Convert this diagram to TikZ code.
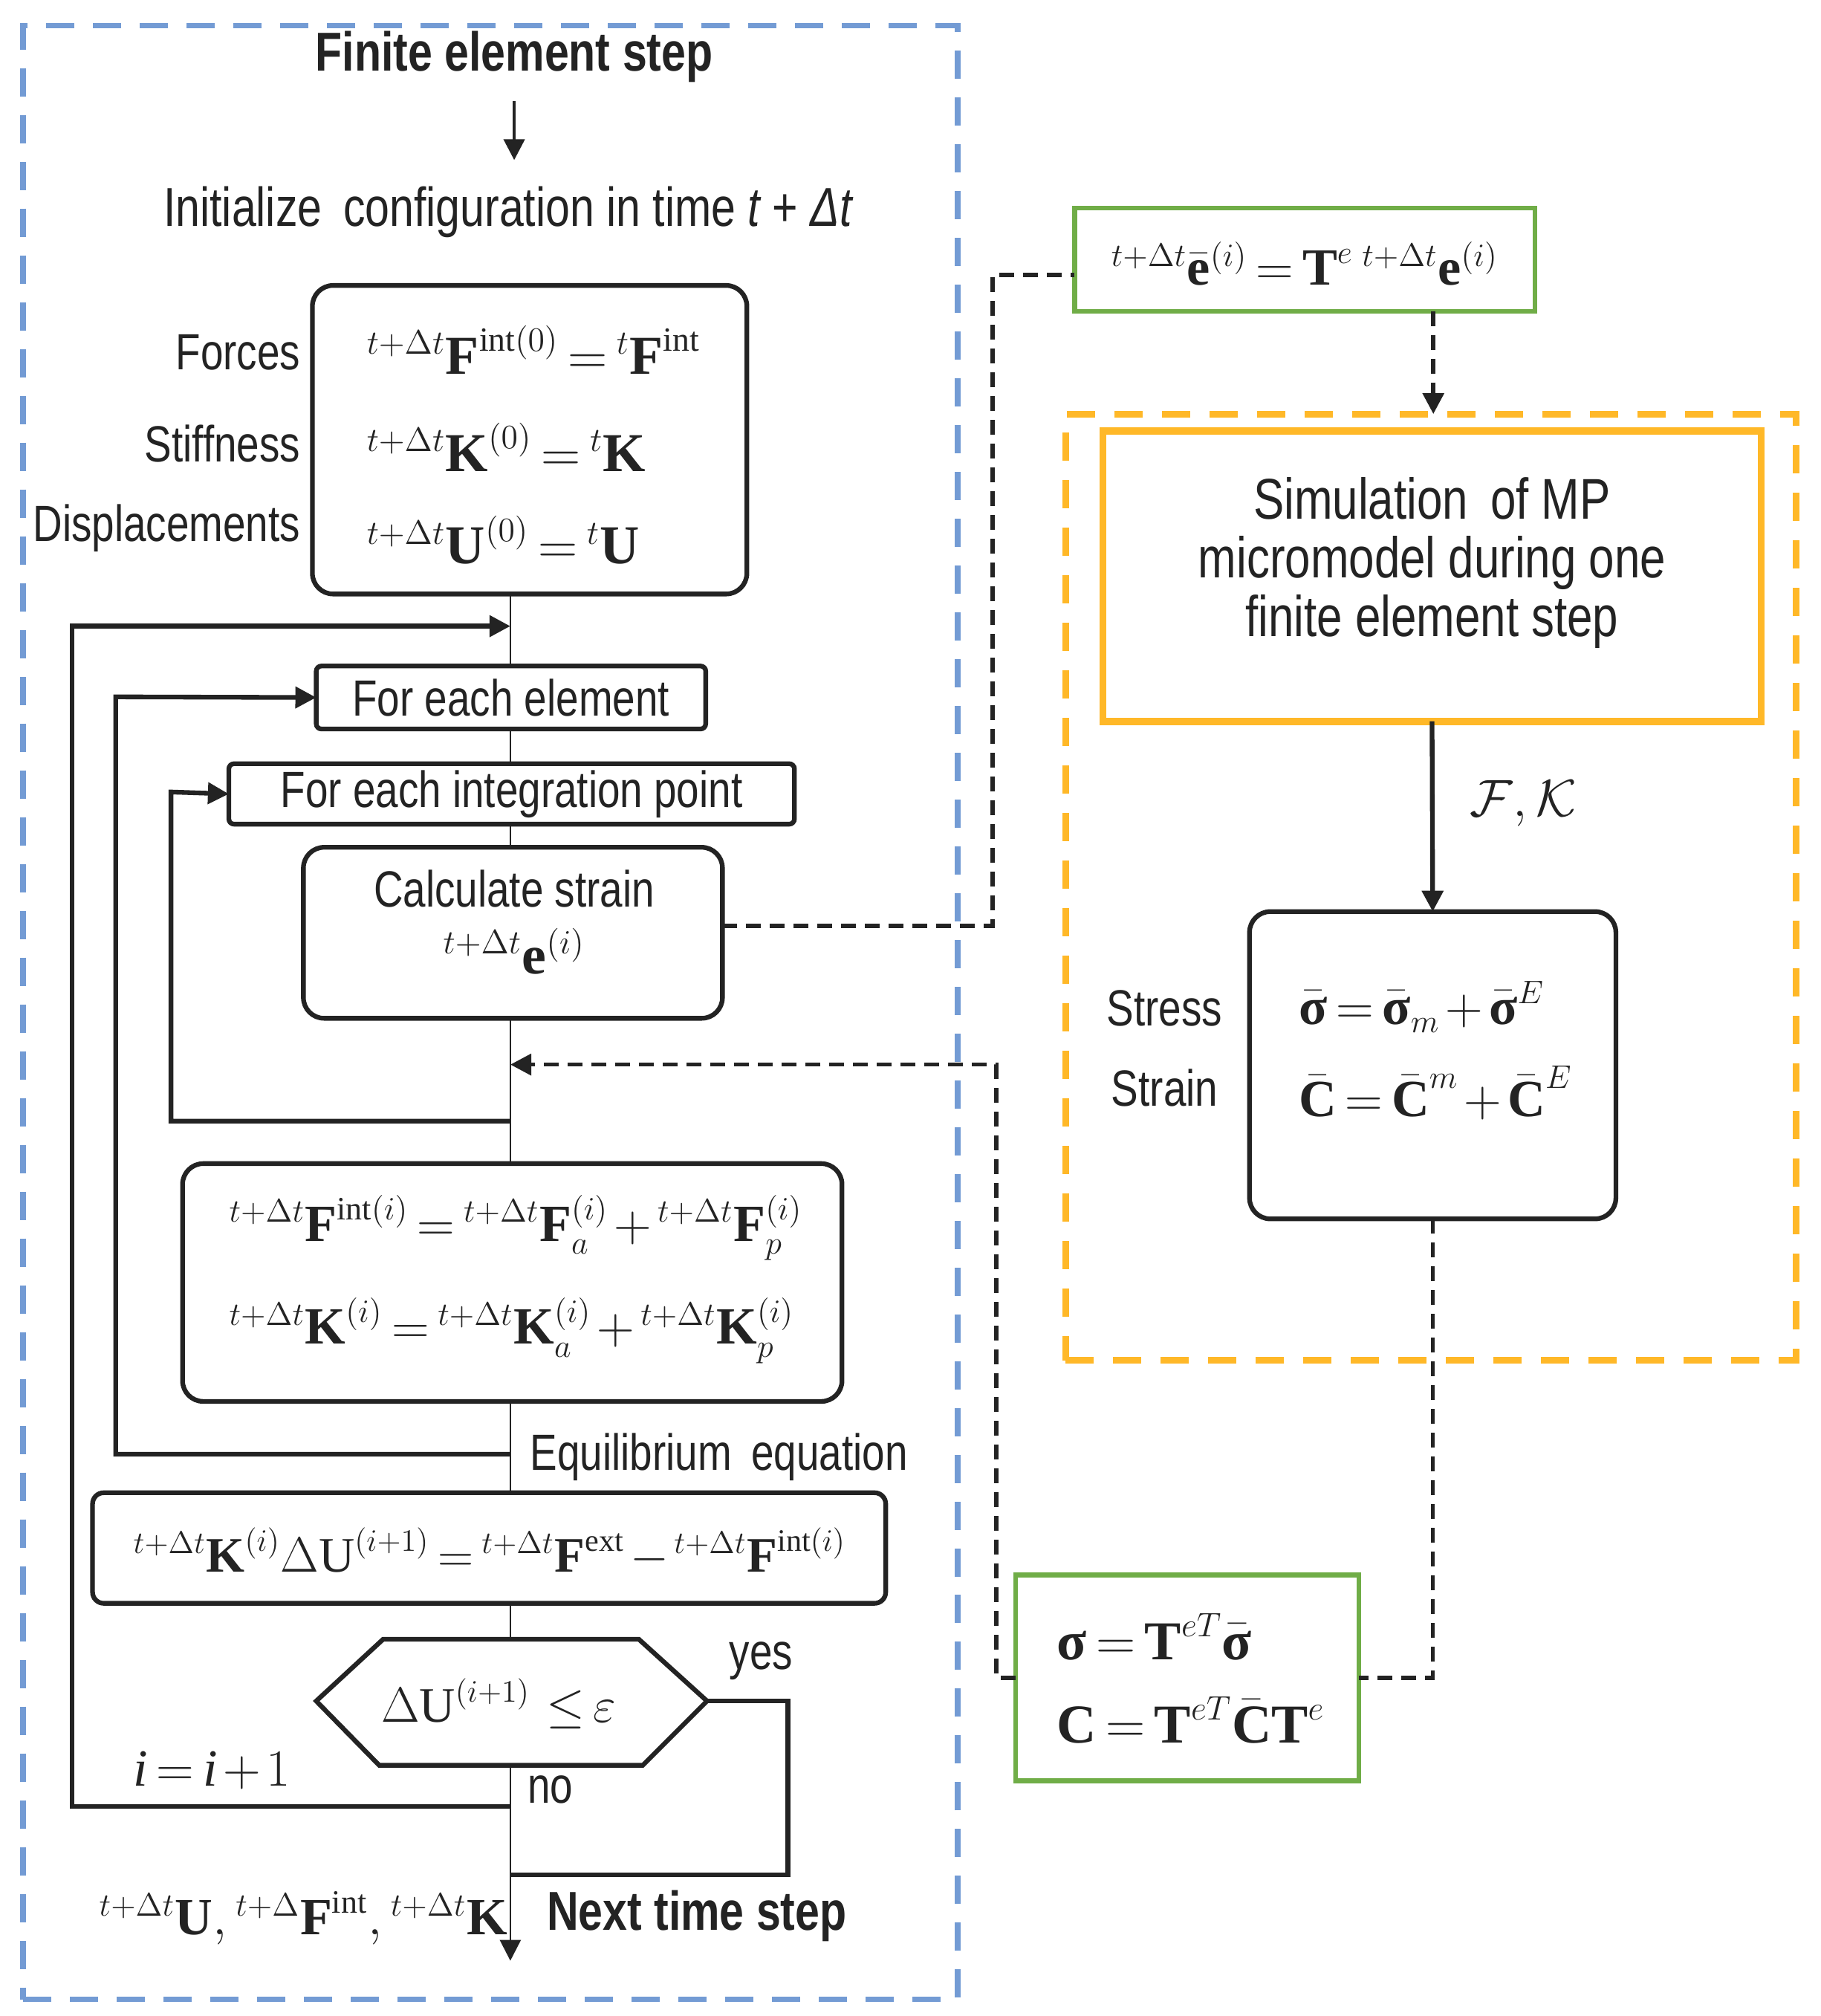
\RequirePackage{fix-cm}
\documentclass[tikz,border=0pt]{standalone}
\usepackage{amsmath,amssymb,bm}
\usepackage[no-math]{fontspec}
\setmainfont{Liberation Sans}[FakeStretch=0.8]
\newfontfamily\tms{Liberation Serif}
\newcommand\bfl[1]{\text{\tms\bfseries #1}}
\newcommand\rml[1]{\text{\tms #1}}
\newcommand\itl[1]{\text{\tms\itshape #1}}
\DeclareMathSizes{19}{19}{12}{9}
\DeclareMathSizes{20}{20}{12.5}{9}
\DeclareMathSizes{21}{21}{13}{9.5}
\usetikzlibrary{arrows.meta,fit,calc}
\definecolor{fblue}{RGB}{115,155,212}
\definecolor{forange}{RGB}{255,184,40}
\definecolor{fgreen}{RGB}{112,173,71}
\definecolor{fdark}{RGB}{35,35,35}
\begin{document}
\thickmuskip=3mu plus 2mu
\medmuskip=2mu plus 1mu
\begin{tikzpicture}[x=0.017302cm, y=-0.017302cm,
  box/.style={draw=fdark, line width=1.8pt, inner sep=0pt, outer sep=0pt, rounded corners=2pt},
  rbox/.style={box, rounded corners=0.28cm},
  gbox/.style={draw=fgreen, line width=1.8pt, inner sep=0pt, outer sep=0pt},
  obox/.style={draw=forange, line width=2.8pt, inner sep=0pt, outer sep=0pt},
  sans/.style={font=\fontsize{19.5}{23}\selectfont, text=fdark, inner sep=0pt},
  boldsans/.style={font=\bfseries\fontsize{21}{25}\selectfont, text=fdark, inner sep=0pt},
  eq/.style={font=\fontsize{20}{24}\selectfont, inner sep=0pt, text=fdark},
  bigeq/.style={font=\fontsize{21}{25}\selectfont, inner sep=0pt, text=fdark},
  smalleq/.style={font=\fontsize{19}{23}\selectfont, inner sep=0pt, text=fdark},
  loopline/.style={draw=fdark, line width=1.8pt},
  mainline/.style={draw=fdark, line width=0.8pt},
  arr/.style={-{Triangle[length=8pt,width=8pt]}},
  dline/.style={draw=fdark, line width=1.6pt, dash pattern=on 0.2cm off 0.12cm},
  bluedash/.style={draw=fblue, line width=2.2pt, dash pattern=on 0.38cm off 0.25cm, inner sep=0pt, outer sep=0pt},
  orangedash/.style={draw=forange, line width=2.6pt, dash pattern=on 0.38cm off 0.26cm, inner sep=0pt, outer sep=0pt}
]
\useasboundingbox (0,0) rectangle (1416,1568);

% frames
\node[bluedash, fit={(18,20)(745,1555)}] (fe) {};
\node[orangedash, fit={(829,322)(1397,1058)}] (odash) {};

% title and init
\node[boldsans] (title) at (400,44) {Finite element step};
\node[font=\fontsize{21}{25}\selectfont, text=fdark, inner sep=0pt] (init) at (395,165) {Initialize\, configuration in time {\itshape t} + {\itshape Δt}};
\draw[draw=fdark, line width=1.2pt, arr, shorten <=0.25cm, shorten >=0.35cm] (title.south) -- (title.south |- init.north);

% box 1
\node[rbox, fit={(243,222)(581,462)}] (b1) {};
\node[sans, anchor=east] (lf) at (234,274) {Forces};
\node[sans, anchor=east] (ls) at (234,345) {Stiffness};
\node[sans, anchor=east] (ld) at (234,411) {Displacements};
\node[bigeq, anchor=west] (e1) at (285,272) {${}^{t+\Delta t}\bfl{F}^{\rml{int}(0)} = {}^{t}\bfl{F}^{\rml{int}}$};
\node[bigeq, anchor=west] (e2) at (285,348) {${}^{t+\Delta t}\bfl{K}^{(0)} = {}^{t}\bfl{K}$};
\node[bigeq, anchor=west] (e3) at (285,420) {${}^{t+\Delta t}\bfl{U}^{(0)} = {}^{t}\bfl{U}$};

% main column
\coordinate (mx) at (397,487);
\node[box, fit={(246,518)(549,567)}] (elem) {};
\node[sans] (elemt) at (elem.center) {For each element};
\node[box, fit={(178,594)(618,641)}] (ip) {};
\node[sans] (ipt) at (ip.center) {For each integration point};
\node[rbox, fit={(236,659)(562,792)}] (strain) {};
\node[sans] (strt) at (400,691) {Calculate strain};
\node[bigeq] (stre) at (400,740) {${}^{t+\Delta t}\bfl{e}^{(i)}$};

\node[rbox, fit={(142,905)(655,1090)}] (b4) {};
\node[eq, anchor=west] (e4) at (178,955) {${}^{t+\Delta t}\bfl{F}^{\rml{int}(i)} = {}^{t+\Delta t}\bfl{F}_a^{(i)} + {}^{t+\Delta t}\bfl{F}_p^{(i)}$};
\node[eq, anchor=west] (e5) at (178,1035) {${}^{t+\Delta t}\bfl{K}^{(i)} = {}^{t+\Delta t}\bfl{K}_a^{(i)} + {}^{t+\Delta t}\bfl{K}_p^{(i)}$};

\node[sans, anchor=west] (eql) at (412,1133) {Equilibrium\, equation};
\node[box, rounded corners=0.15cm, fit={(72,1161)(689,1247)}] (b5) {};
\node[smalleq] (e6) at (381,1207) {${}^{t+\Delta t}\bfl{K}^{(i)}\Delta\rml{U}^{(i+1)} = {}^{t+\Delta t}\bfl{F}^{\rml{ext}} - {}^{t+\Delta t}\bfl{F}^{\rml{int}(i)}$};

% hexagon
\coordinate (hT) at (397,1275);
\coordinate (hB) at (397,1373);
\coordinate (hR) at (550,1323);
\draw[draw=fdark, line width=1.8pt, line join=miter] (298,1275) -- (497,1275) -- (hR) -- (500,1373) -- (295,1373) -- (246,1323) -- cycle;
\node[smalleq] (hex) at (388,1325) {$\Delta\rml{U}^{(i+1)}\,\le\varepsilon$};
\node[sans] (yes) at (592,1292) {yes};
\node[sans] (no) at (428,1392) {no};
\node[eq] (inc) at (165,1377) {$\itl{i}=\itl{i}+1$};

\coordinate (endc) at (397,1525);
\node[eq, anchor=east] (res) at (395,1492) {${}^{t+\Delta t}\bfl{U}, {}^{t+\Delta}\bfl{F}^{\rml{int}}, {}^{t+\Delta t}\bfl{K}$};
\node[boldsans, anchor=west] (nts) at (425,1490) {Next time step};

% main line segments
\draw[mainline] (mx |- b1.south) -- (mx |- elem.north);
\draw[mainline] (mx |- elem.south) -- (mx |- ip.north);
\draw[mainline] (mx |- ip.south) -- (mx |- strain.north);
\draw[mainline] (mx |- strain.south) -- (mx |- b4.north);
\draw[mainline] (mx |- b4.south) -- (mx |- b5.north);
\draw[mainline] (mx |- b5.south) -- (hT);
\draw[mainline, arr] (hB) -- (endc);

% loops
\coordinate (l1) at (397,1405);
\coordinate (l2) at (397,1131);
\coordinate (l3) at (397,872);
\coordinate (yj) at (397,1458);
\draw[loopline, arr] (l1) -- (56,1405) -- (56,487) -- (mx);
\draw[loopline, arr] (l2) -- (90,1131) -- (90,542) -- (elem.west);
\draw[loopline, arr] (l3) -- (133,872) -- (133,616) -- (ip.west);
\draw[loopline] (hR) -- (613,1323) -- (613,1458) -- (yj);

% right side
\node[gbox, fit={(836,162)(1194,242)}] (g1) {};
\node[eq] (g1e) at (1015,205) {${}^{t+\Delta t}\bar{\bfl{e}}^{(i)} = \bfl{T}^{e}\;{}^{t+\Delta t}\bfl{e}^{(i)}$};

\node[obox, fit={(858,335)(1370,561)}] (sim) {};
\node[font=\fontsize{22}{22.5}\selectfont, text=fdark, align=center] (simt) at (1114,438) {Simulation\, of MP\\micromodel during one\\finite element step};

\node[eq] (fk) at (1185,625) {$\mathcal{F},\mathcal{K}$};

\node[rbox, fit={(972,709)(1257,948)}] (sb) {};
\node[sans] (lst) at (906,784) {Stress};
\node[sans] (lsn) at (906,846) {Strain};
\node[eq, anchor=west] (s1) at (1010,783) {$\bar{\bfl{σ}} = \bar{\bfl{σ}}_m + \bar{\bfl{σ}}^E$};
\node[eq, anchor=west] (s2) at (1010,850) {$\bar{\bfl{C}} = \bar{\bfl{C}}^m + \bar{\bfl{C}}^E$};

\node[gbox, fit={(790,1225)(1057,1385)}] (g2) {};
\node[bigeq, anchor=west] (g2a) at (822,1273) {$\bfl{σ} = \bfl{T}^{eT}\bar{\bfl{σ}}$};
\node[bigeq, anchor=west] (g2b) at (822,1338) {$\bfl{C} = \bfl{T}^{eT}\bar{\bfl{C}}\bfl{T}^{e}$};

\draw[loopline, arr] (sim.south) -- (sb.north);

% dashed connectors
\draw[dline] (strain.east |- 0,720) -- (772,720) -- (772,214) -- (g1.west |- 0,214);
\draw[dline, arr] (1115,0 |- g1.south) -- (1115,0 |- odash.north);
\draw[dline] (sb.south) -- (sb.south |- g2.east) -- (g2.east);
\draw[dline, arr] (g2.west) -- (775,0 |- g2.west) -- (775,828) -- (mx |- 0,828);
\end{tikzpicture}
\end{document}
